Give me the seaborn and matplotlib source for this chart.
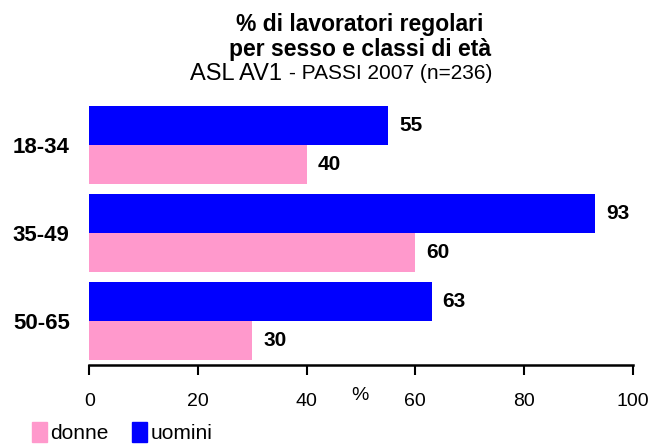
import matplotlib
matplotlib.use("Agg")
import matplotlib.pyplot as plt
from matplotlib.patches import Patch
import pandas as pd
import seaborn as sns

age_groups = ["18-34", "35-49", "50-65"]
uomini = [55, 93, 63]
donne = [40, 60, 30]
sexes = ["uomini", "donne"]
x_ticks = [0, 20, 40, 60, 80, 100]

colors = {"uomini": "#0000FF", "donne": "#FF99CC"}

df = pd.DataFrame({
    "eta": age_groups * 2,
    "sesso": ["uomini"] * 3 + ["donne"] * 3,
    "valore": uomini + donne,
})

sns.set_style("white")
plt.rcParams["font.family"] = ["Liberation Sans", "DejaVu Sans"]
plt.rcParams["text.color"] = "black"
plt.rcParams["xtick.color"] = "black"
plt.rcParams["ytick.color"] = "black"

fig = plt.figure(figsize=(6.66, 4.46), dpi=100)
ax = fig.add_axes([0.134, 0.182, 0.816, 0.592])

sns.barplot(
    data=df, x="valore", y="eta", hue="sesso", order=age_groups,
    hue_order=sexes, palette=colors, orient="h", width=0.88,
    saturation=1, legend=False, linewidth=0, ax=ax,
)

for container in ax.containers:
    ax.bar_label(container, fmt="%d", padding=8, fontsize=15,
                 fontweight="bold")

ax.set_xlim(0, 100)
ax.set_xticks(x_ticks)
ax.set_xlabel("")
ax.set_ylabel("")
ax.tick_params(axis="x", bottom=True, length=7, width=1.5, direction="out",
               labelsize=14, pad=13)
ax.tick_params(axis="y", left=False, length=0, labelsize=16, pad=14)
for label in ax.get_yticklabels():
    label.set_fontweight("bold")

for side in ["top", "right", "left"]:
    ax.spines[side].set_visible(False)
ax.spines["bottom"].set_linewidth(1.8)
ax.spines["bottom"].set_color("black")

fig.text(0.54, 0.114, "%", fontsize=14, ha="center", va="center")

fig.text(0.54, 0.946, "% di lavoratori regolari", fontsize=16.5,
         fontweight="bold", ha="center", va="center")
fig.text(0.54, 0.888, "per sesso e classi di età", fontsize=16.5,
         fontweight="bold", ha="center", va="center")
fig.text(0.424, 0.834, "ASL AV1", fontsize=17, ha="right", va="center")
fig.text(0.434, 0.836, "- PASSI 2007 (n=236)", fontsize=15, ha="left",
         va="center")

handles = [Patch(color=colors["donne"], label="donne"),
           Patch(color=colors["uomini"], label="uomini")]
fig.legend(handles=handles, loc="lower left", bbox_to_anchor=(0.035, -0.012),
           ncol=2, frameon=False, fontsize=15, handlelength=0.75,
           handleheight=1.1, handletextpad=0.15, columnspacing=1.1,
           borderaxespad=0)

fig.savefig("out.png", dpi=100)
